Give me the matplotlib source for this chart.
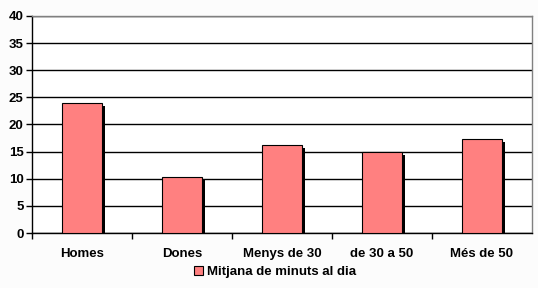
import matplotlib.pyplot as plt
import matplotlib.transforms as mtransforms
import numpy as np

categories = ["Homes", "Dones", "Menys de 30", "de 30 a 50", "Més de 50"]
values = [24.0, 10.3, 16.2, 14.9, 17.3]
series_name = "Mitjana de minuts al dia"

plt.rcParams['font.family'] = ['Liberation Sans', 'DejaVu Sans']
plt.rcParams['font.weight'] = 'bold'

fig = plt.figure(figsize=(5.38, 2.88), dpi=100, facecolor='#fcfcfc')
ax = fig.add_axes([32 / 538, 55 / 288, 500 / 538, 217 / 288])
ax.set_facecolor('white')

x = np.arange(len(categories))
shadow = mtransforms.offset_copy(ax.transData, fig=fig, x=3, y=-3, units='dots')
ax.bar(x, values, width=0.4, color='black', transform=shadow, zorder=2)
ax.bar(x, values, width=0.4, color='#ff8080', edgecolor='black', linewidth=0.8,
       zorder=3, label=series_name)

ax.set_xlim(-0.5, len(categories) - 0.5)
ax.set_ylim(0, 40)
ax.set_yticks(range(0, 41, 5))
ax.yaxis.grid(True, color='black', linewidth=1)
ax.set_axisbelow(True)

ax.set_xticks(np.arange(-0.5, len(categories) - 1, 1.0))
ax.set_xticklabels([])
ax.set_xticks(x, minor=True)
ax.set_xticklabels(categories, minor=True, fontsize=9.5, fontweight='bold')
ax.tick_params(axis='x', which='minor', length=0, pad=11)
ax.tick_params(axis='x', which='major', length=4, width=1, color='black')
ax.tick_params(axis='y', length=4, width=1, labelsize=9.5, pad=2)

for s in ['top', 'right']:
    ax.spines[s].set_color('#808080')
    ax.spines[s].set_linewidth(1)
for s in ['left', 'bottom']:
    ax.spines[s].set_color('black')
    ax.spines[s].set_linewidth(1)

fig.legend(loc='center', bbox_to_anchor=(275 / 538, 1 - 272 / 288), frameon=False,
           handlelength=0.7, handleheight=0.7, handletextpad=0.3,
           prop={'weight': 'bold', 'size': 9.5})

fig.savefig('out.png', dpi=100, facecolor=fig.get_facecolor())
